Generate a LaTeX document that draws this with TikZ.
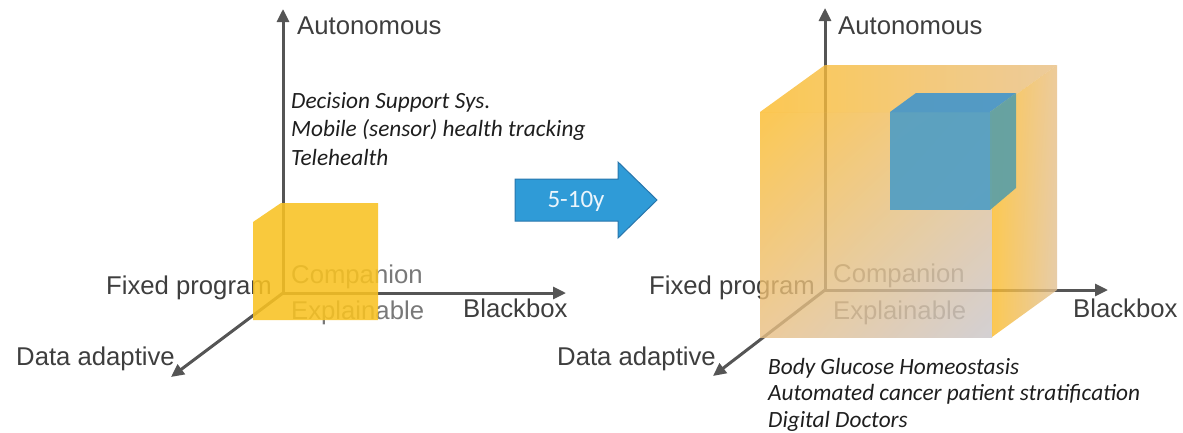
\documentclass[tikz,border=0pt]{standalone}
\usepackage{fontspec}
\setmainfont{Liberation Sans}
\newfontfamily\calibri{Carlito}
\usetikzlibrary{arrows.meta,shadings}
\definecolor{axisgray}{RGB}{85,85,85}
\definecolor{labelgray}{RGB}{62,62,62}
\definecolor{fadegray}{RGB}{120,120,120}
\definecolor{casetext}{RGB}{30,30,30}
\definecolor{cubeyellow}{RGB}{248,194,34}
\definecolor{cubeorange}{RGB}{251,186,40}
\definecolor{cubetan}{RGB}{232,190,130}
\definecolor{cubegray}{RGB}{200,196,200}
\definecolor{arrowblue}{RGB}{47,155,215}
\definecolor{arrowedge}{RGB}{40,118,172}
\definecolor{arrowtext}{RGB}{235,245,252}
\definecolor{boxfront}{RGB}{80,158,196}
\definecolor{boxtop}{RGB}{70,150,202}
\definecolor{boxside}{RGB}{92,160,166}

\tikzset{
  axis/.style={draw=axisgray, line width=3pt, -{Triangle[length=13pt,width=12pt]}},
  axislabel/.style={text=labelgray, inner sep=0pt, font=\fontsize{25.7}{30}\selectfont},
  dimlabel/.style={text=fadegray, inner sep=0pt, font=\fontsize{25.7}{30}\selectfont},
  usecase/.style={text=casetext, inner sep=0pt, align=left},
  glass/.style={fill opacity=.8},
}

\begin{document}
\begin{tikzpicture}[x=1pt,y=-1pt]
  \useasboundingbox (0,0) rectangle (1183,432);

  % today
  \coordinate (o1) at (283,293);
  \coordinate (auto1) at (283,9);
  \coordinate (black1) at (566,293);
  \coordinate (data1) at (171,377);
  \draw[axis] (o1) -- (auto1);
  \draw[axis] (o1) -- (black1);
  \draw[axis] (o1) -- (data1);

  \node[axislabel, anchor=base west] (autolbl1) at (297,34) {Autonomous};
  \node[axislabel, anchor=base east] (fixlbl1) at (272,294) {Fixed program};
  \node[dimlabel, anchor=base west] (complbl1) at (291,283) {Companion};
  \node[dimlabel, anchor=base west] (explbl1) at (291,319) {Explainable};
  \node[axislabel, anchor=base west] (blacklbl1) at (463,317) {Blackbox};
  \node[axislabel, anchor=base east] (datalbl1) at (175,365) {Data adaptive};
  % last line sits on the given baseline
  \node[usecase, anchor=base west, font=\calibri\itshape\fontsize{23.3}{28.5}\selectfont] (nowcases) at (291,165)
    {Decision Support Sys.\\Mobile (sensor) health tracking\\Telehealth};

  \fill[cubeyellow, fill opacity=.88] (253,222) -- (281,203) -- (378,203) -- (378,320) -- (253,320) -- cycle;

  % 5-10 years
  \draw[arrowedge, fill=arrowblue, line width=1pt] (515,179) -- (618,179) -- (618,162) -- (657,200)
    -- (618,238) -- (618,221) -- (515,221) -- cycle;
  \node[text=arrowtext, font=\calibri\fontsize{25}{29}\selectfont] (span) at (576,201) {5-10y};

  % future
  \coordinate (o2) at (825,290);
  \coordinate (auto2) at (825,8);
  \coordinate (black2) at (1108,290);
  \coordinate (data2) at (713,376);
  \draw[axis] (o2) -- (auto2);
  \draw[axis] (o2) -- (black2);
  \draw[axis] (o2) -- (data2);

  \node[axislabel, anchor=base west] (autolbl2) at (838,34) {Autonomous};
  \node[axislabel, anchor=base east] (fixlbl2) at (815,294) {Fixed program};
  \node[dimlabel, anchor=base west] (complbl2) at (833,282) {Companion};
  \node[dimlabel, anchor=base west] (explbl2) at (833,319) {Explainable};
  \node[axislabel, anchor=base west] (blacklbl2) at (1073,317) {Blackbox};
  \node[axislabel, anchor=base east] (datalbl2) at (716,365) {Data adaptive};
  \node[usecase, anchor=base west, font=\calibri\itshape\fontsize{23.3}{26.5}\selectfont] (latercases) at (768,427)
    {Body Glucose Homeostasis\\Automated cancer patient stratification\\Digital Doctors};

  \shade[glass, upper left=cubeorange, upper right=cubetan, lower left=cubetan, lower right=cubegray]
    (760,112) rectangle (992,337);
  \shade[glass, upper left=cubeorange, lower left=cubeorange, upper right=cubetan, lower right=cubetan]
    (760,112) -- (825,65) -- (1057,65) -- (992,112) -- cycle;
  \shade[glass, upper left=cubeorange, lower left=cubeorange, upper right=cubetan, lower right=cubetan!70!cubegray]
    (992,112) -- (1057,65) -- (1057,290) -- (992,337) -- cycle;

  \fill[boxfront, fill opacity=.92] (890,112) rectangle (990,210);
  \fill[boxtop, fill opacity=.92] (890,112) -- (916,93) -- (1016,93) -- (990,112) -- cycle;
  \fill[boxside, fill opacity=.92] (990,112) -- (1016,93) -- (1016,188) -- (990,210) -- cycle;
\end{tikzpicture}
\end{document}
